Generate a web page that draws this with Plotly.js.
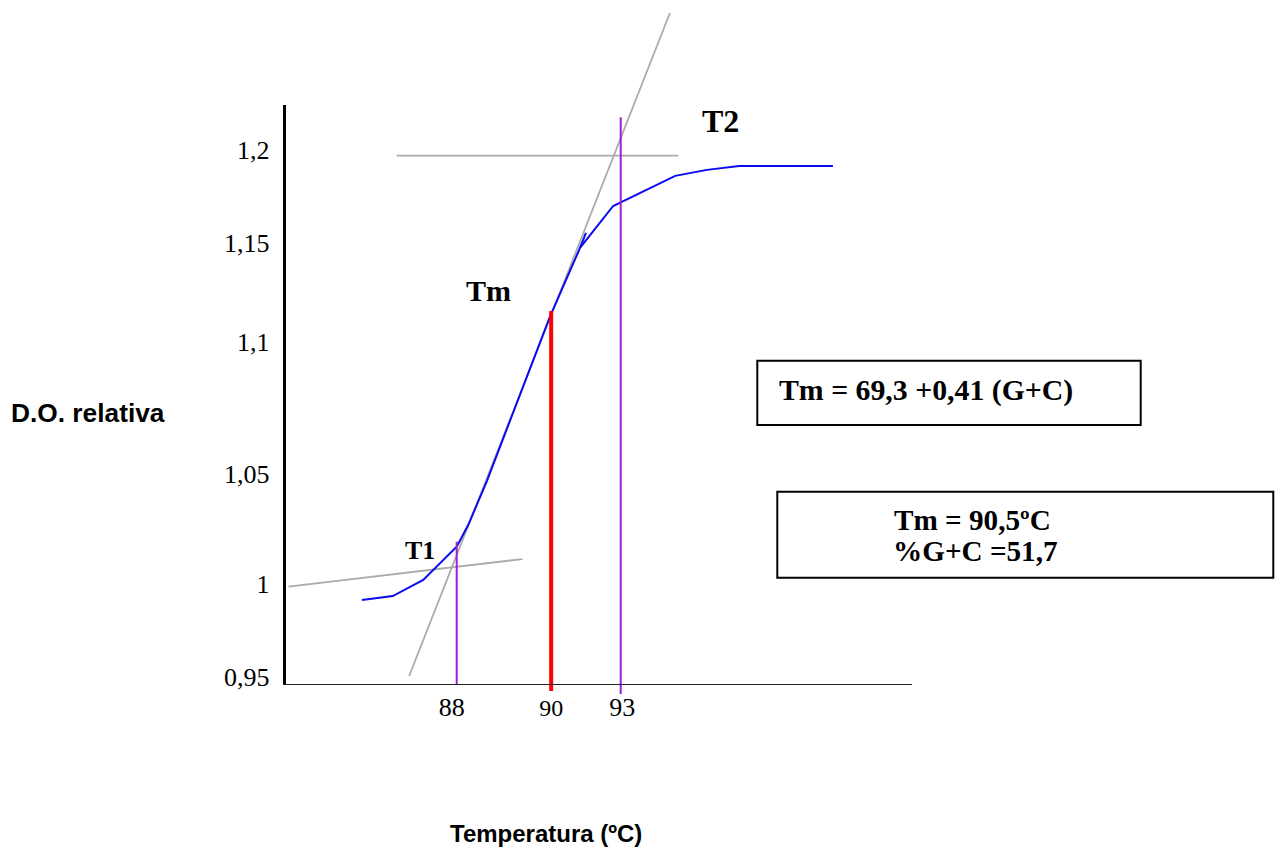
<!DOCTYPE html>
<html>
<head>
<meta charset="utf-8">
<script src="https://cdn.plot.ly/plotly-3.0.1.min.js"></script>
<style>
html,body{margin:0;padding:0;background:#ffffff;}
#chart{width:1282px;height:848px;}
</style>
</head>
<body>
<div id="chart"></div>
<script>
// ---------------- data ----------------
// melting curve: temperature (ºC) vs relative optical density
const meltTemp = [85.11, 86.05, 86.98, 88.00, 88.35, 88.92, 90.84, 91.76, 92.77, 94.66, 95.63, 96.61, 99.47];
const meltOD   = [0.9894, 0.9913, 0.9988, 1.0144, 1.0245, 1.0451, 1.1219, 1.1542, 1.1738, 1.1879, 1.1907, 1.1925, 1.1925];

// short hand-drawn blue stroke near the upper bend
const strokeTemp = [91.76, 91.94];
const strokeOD   = [1.1542, 1.1612];

// construction (tangent) lines
const slopeTemp     = [86.55, 94.50];
const slopeOD       = [0.9539, 1.2641];
const lowBaseTemp   = [82.87, 90.00];
const lowBaseOD     = [0.9957, 1.0086];
const highBaseTemp  = [86.17, 94.76];
const highBaseOD    = [1.1974, 1.1974];

// marker temperatures
const t1Temp = [88.00, 88.00];
const t1OD   = [0.9500, 1.0167];
const t2Temp = [93.00, 93.00];
const t2OD   = [0.9455, 1.2153];
const tmTemp = [90.88, 90.88];
const tmOD   = [0.9469, 1.1247];

// tick labels
const xTickVals = [87.85, 90.88, 93.05];
const xTickText = ['88', '<span style="font-size:24px">90</span>', '93'];
const yTickVals = [0.9534, 0.9969, 1.0484, 1.1103, 1.1565, 1.2002];
const yTickText = ['0,95', '1', '1,05', '1,1', '1,15', '1,2'];

// texts
const yTitle = 'D.O. relativa';
const xTitle = 'Temperatura (ºC)';
const formulaText = 'Tm = 69,3 +0,41 (G+C)';
const resultLine1 = 'Tm = 90,5ºC';
const resultLine2 = '%G+C =51,7';

// ---------------- layout geometry ----------------
const W = 1282, H = 848;
const xView = [74.0762, 113.1616];   // data axis spanning the whole figure
const yView = [0.87340, 1.27019];
const axDomX = [285.6 / W, 911.7 / W];
const axDomY = [(H - 683.6) / H, (H - 105) / H];
function sub(r, d) { return [r[0] + d[0] * (r[1] - r[0]), r[0] + d[1] * (r[1] - r[0])]; }
const px = v => v / W;
const py = v => 1 - v / H;

const serif = 'Liberation Serif, Times New Roman, serif';
const sans = 'Liberation Sans, Arial, sans-serif';
const gray = '#ababab';
const purple = '#9c1fd2';

function seg(x, y, color, width) {
  return {x: x, y: y, mode: 'lines', type: 'scatter', xaxis: 'x', yaxis: 'y',
          line: {color: color, width: width}, hoverinfo: 'skip', showlegend: false};
}

const traces = [
  seg(slopeTemp, slopeOD, gray, 1.8),
  seg(lowBaseTemp, lowBaseOD, gray, 1.8),
  seg(highBaseTemp, highBaseOD, gray, 1.8),
  seg(meltTemp, meltOD, '#0a0af0', 2),
  seg(strokeTemp, strokeOD, '#0a0af0', 2),
  seg(t1Temp, t1OD, purple, 2),
  seg(t2Temp, t2OD, purple, 2),
  seg(tmTemp, tmOD, '#ff0000', 4),
  {x: [], y: [], type: 'scatter', mode: 'lines', xaxis: 'x2', yaxis: 'y2', showlegend: false, hoverinfo: 'skip'}
];

function ann(text, x, y, size, family, anchor) {
  return {text: text, x: px(x), y: py(y), xref: 'paper', yref: 'paper',
          xanchor: anchor, yanchor: 'middle', showarrow: false,
          font: {family: family, size: size, color: '#000', weight: 'bold'}};
}

const layout = {
  width: W, height: H,
  margin: {l: 0, r: 0, t: 0, b: 0, pad: 0},
  paper_bgcolor: '#ffffff', plot_bgcolor: 'rgba(0,0,0,0)',
  showlegend: false,
  xaxis: {domain: [0, 1], range: xView, visible: false, fixedrange: true},
  yaxis: {domain: [0, 1], range: yView, visible: false, fixedrange: true},
  xaxis2: {domain: axDomX, range: sub(xView, axDomX), anchor: 'y2',
           showline: true, linecolor: '#222', linewidth: 1.5,
           ticks: '', showgrid: false, zeroline: false, fixedrange: true,
           tickmode: 'array', tickvals: xTickVals, ticktext: xTickText,
           tickfont: {family: serif, size: 26, color: '#000'}, ticklabelstandoff: 0},
  yaxis2: {domain: axDomY, range: sub(yView, axDomY), anchor: 'x2',
           showline: true, linecolor: '#000', linewidth: 3,
           ticks: '', showgrid: false, zeroline: false, fixedrange: true,
           tickmode: 'array', tickvals: yTickVals, ticktext: yTickText,
           tickfont: {family: serif, size: 26, color: '#000'}, ticklabelstandoff: 8},
  shapes: [
    {type: 'rect', xref: 'paper', yref: 'paper', x0: px(757.3), x1: px(1140.7), y0: py(425), y1: py(360.7),
     line: {color: '#000', width: 2}, fillcolor: 'rgba(0,0,0,0)'},
    {type: 'rect', xref: 'paper', yref: 'paper', x0: px(777.3), x1: px(1273.3), y0: py(577.7), y1: py(491.7),
     line: {color: '#000', width: 2}, fillcolor: 'rgba(0,0,0,0)'}
  ],
  annotations: [
    ann('Tm', 488, 290.3, 30, serif, 'center'),
    ann('T1', 420.3, 550, 26, serif, 'center'),
    ann('T2', 720.5, 121.2, 32, serif, 'center'),
    ann(formulaText, 777.3, 390, 29.8, serif, 'left'),
    ann(resultLine1, 892, 520, 29.2, serif, 'left'),
    ann(resultLine2, 890.5, 550.8, 29.2, serif, 'left'),
    ann(yTitle, 9, 413.3, 26.3, sans, 'left'),
    ann(xTitle, 545.5, 833.3, 24, sans, 'center')
  ]
};

Plotly.newPlot('chart', traces, layout, {displayModeBar: false, staticPlot: true});
</script>
</body>
</html>
